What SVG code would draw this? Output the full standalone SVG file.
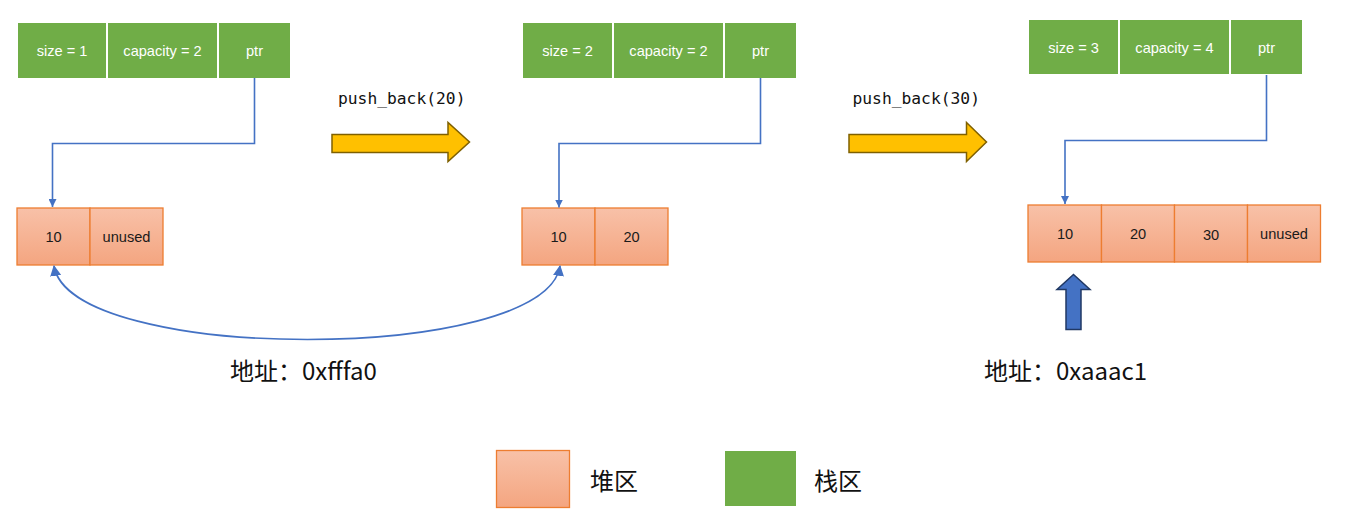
<svg xmlns="http://www.w3.org/2000/svg" width="1345" height="527" viewBox="0 0 1345 527">
<defs>
<linearGradient id="heapGrad" x1="0" y1="0" x2="0" y2="1">
<stop offset="0" stop-color="#F8C1A8"/>
<stop offset="1" stop-color="#F4A580"/>
</linearGradient>
<marker id="ah" viewBox="0 0 10 10" refX="10" refY="5" markerWidth="8" markerHeight="8" markerUnits="userSpaceOnUse" orient="auto-start-reverse">
<path d="M0,0 L10,5 L0,10 z" fill="#4472C4"/>
</marker>
<marker id="ah2" viewBox="0 0 10 10" refX="9" refY="5" markerWidth="11" markerHeight="11" markerUnits="userSpaceOnUse" orient="auto-start-reverse">
<path d="M0,0 L10,5 L0,10 z" fill="#4472C4"/>
</marker>
<style>
.stack{fill:#70AD47;}
.heap{fill:url(#heapGrad);stroke:#ED7D31;stroke-width:1.3;}
.st{font-family:"Liberation Sans",Arial,sans-serif;font-size:14.6px;fill:#FFFFFF;text-anchor:middle;dominant-baseline:central;}
.ht{font-family:"Liberation Sans",Arial,sans-serif;font-size:14.6px;fill:#1a1a1a;text-anchor:middle;dominant-baseline:central;}
.code{font-family:"DejaVu Sans Mono","Liberation Mono",monospace;font-size:16.3px;fill:#111111;}
.cjk{font-family:"Noto Sans CJK SC","Noto Sans",sans-serif;font-size:24px;fill:#111111;}
.conn{fill:none;stroke:#4472C4;stroke-width:1.6;}
.bigarrow{fill:#FFC000;stroke:#7F6000;stroke-width:1.5;}
.uparrow{fill:#4472C4;stroke:#203864;stroke-width:1.5;}
</style>
</defs>
<rect width="1345" height="527" fill="#FFFFFF"/>

<g id="stack1">
<rect class="stack" x="18" y="23" width="88" height="55"/>
<rect class="stack" x="108" y="23" width="109" height="55"/>
<rect class="stack" x="219" y="23" width="71" height="55"/>
<text class="st" x="62" y="51">size = 1</text>
<text class="st" x="162.5" y="51">capacity = 2</text>
<text class="st" x="254.5" y="51">ptr</text>
</g>
<g id="heap1">
<rect class="heap" x="17" y="208" width="73" height="57"/>
<rect class="heap" x="90" y="208" width="73" height="57"/>
<text class="ht" x="53.5" y="237">10</text>
<text class="ht" x="126.5" y="237">unused</text>
</g>

<g id="stack2">
<rect class="stack" x="523" y="23" width="89" height="55"/>
<rect class="stack" x="614" y="23" width="109" height="55"/>
<rect class="stack" x="725" y="23" width="71" height="55"/>
<text class="st" x="567.5" y="51">size = 2</text>
<text class="st" x="668.5" y="51">capacity = 2</text>
<text class="st" x="760.5" y="51">ptr</text>
</g>
<g id="heap2">
<rect class="heap" x="522" y="208" width="73" height="57"/>
<rect class="heap" x="595" y="208" width="73" height="57"/>
<text class="ht" x="558.5" y="237">10</text>
<text class="ht" x="631.5" y="237">20</text>
</g>

<g id="stack3">
<rect class="stack" x="1029" y="20" width="89" height="54"/>
<rect class="stack" x="1120" y="20" width="109" height="54"/>
<rect class="stack" x="1231" y="20" width="71" height="54"/>
<text class="st" x="1073.5" y="48">size = 3</text>
<text class="st" x="1174.5" y="48">capacity = 4</text>
<text class="st" x="1266.5" y="48">ptr</text>
</g>
<g id="heap3">
<rect class="heap" x="1028" y="205" width="73.5" height="57"/>
<rect class="heap" x="1101.5" y="205" width="73" height="57"/>
<rect class="heap" x="1174.5" y="205" width="73" height="57"/>
<rect class="heap" x="1247.5" y="205" width="73" height="57"/>
<text class="ht" x="1065" y="234">10</text>
<text class="ht" x="1138" y="234">20</text>
<text class="ht" x="1211" y="235">30</text>
<text class="ht" x="1284" y="234">unused</text>
</g>

<g id="op1">
<text class="code" x="338" y="104">push_back(20)</text>
<polygon class="bigarrow" points="332,134.5 448,134.5 448,122.5 469.5,142 448,161.5 448,152.5 332,152.5"/>
</g>
<g id="op2">
<text class="code" x="852.5" y="104">push_back(30)</text>
<polygon class="bigarrow" points="849,134.5 966.5,134.5 966.5,122.5 986.5,142 966.5,161.5 966.5,152.5 849,152.5"/>
</g>

<g id="addr1">
<text class="cjk" x="230" y="380">地址：0xfffa0</text>
</g>
<g id="addr2">
<text class="cjk" x="984" y="380">地址：0xaaac1</text>
</g>
<g id="pointer3">
<polygon class="uparrow" points="1073.5,274.5 1090,289.5 1081,289.5 1081,329.5 1066,329.5 1066,289.5 1057,289.5"/>
</g>

<g id="legend">
<rect class="heap" x="496.5" y="450.5" width="73" height="57"/>
<text class="cjk" x="590" y="490" font-size="25">堆区</text>
<rect class="stack" x="725" y="451" width="71" height="55"/>
<text class="cjk" x="814" y="490" font-size="25">栈区</text>
</g>

<g id="connectors">
<path class="conn" d="M254.5,78 V143.5 H52.5 V207" marker-end="url(#ah)"/>
<path class="conn" d="M760.5,78 V143.5 H559 V207.5" marker-end="url(#ah)"/>
<path class="conn" d="M1266.5,75 V140.5 H1065 V204" marker-end="url(#ah)"/>
<path class="conn" d="M54,266 C70,364 545,364 560,266" marker-start="url(#ah2)" marker-end="url(#ah2)"/>
</g>
</svg>
